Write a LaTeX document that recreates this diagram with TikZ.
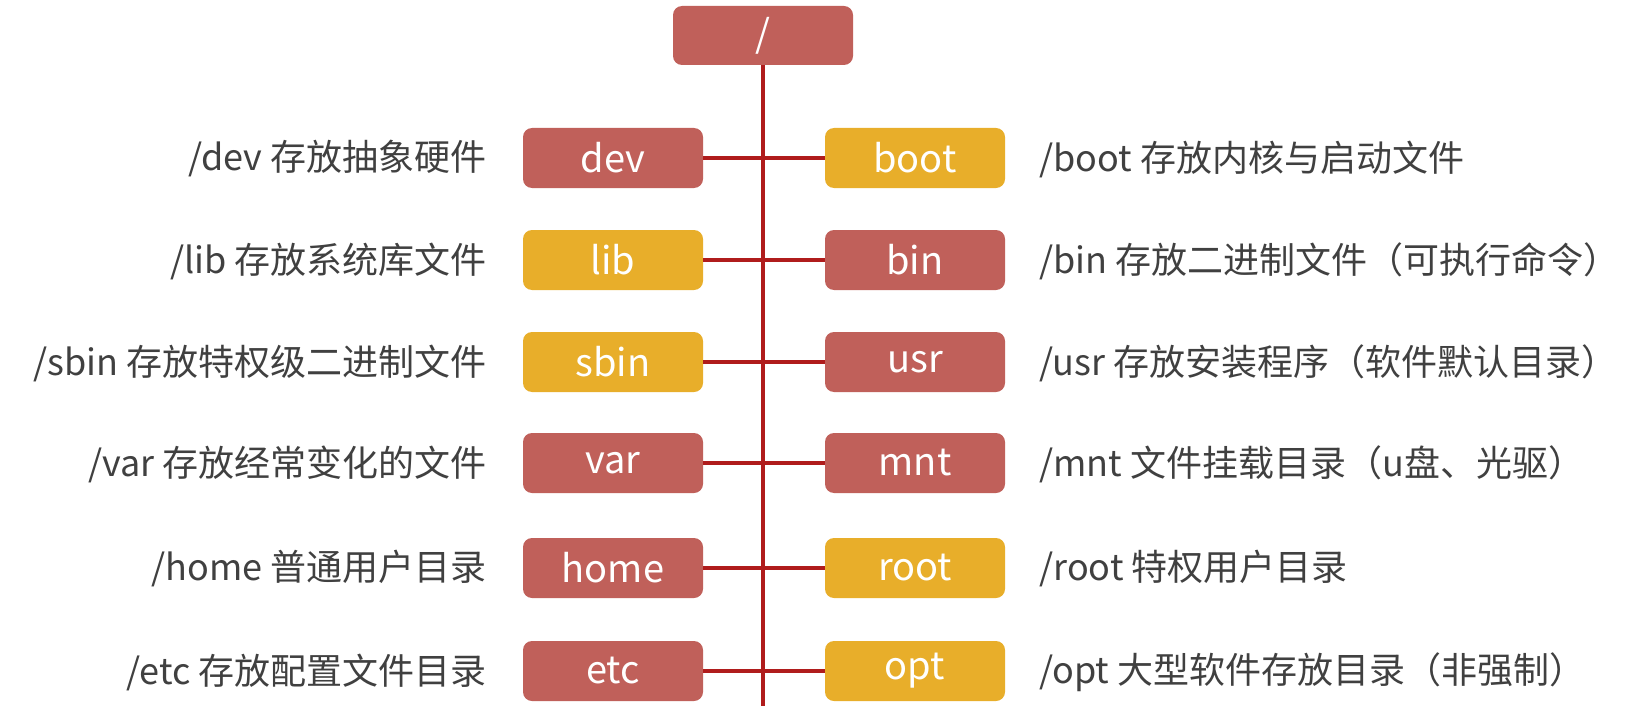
\documentclass[tikz,border=0pt]{standalone}
\usepackage{fontspec}
\setmainfont{Noto Sans CJK SC}
\usepackage{xcolor}
\definecolor{dirred}{HTML}{C0605A}
\definecolor{diryellow}{HTML}{E8AE2A}
\definecolor{treeline}{HTML}{B01C1C}
\definecolor{desc}{HTML}{404040}

\begin{document}
\begin{tikzpicture}[
  x=0.5pt, y=-0.5pt,
  box/.style={rounded corners=4.5pt, minimum width=90pt, minimum height=30pt, inner sep=0pt, text=white, font=\fontsize{19}{21}\selectfont},
  redbox/.style={box, fill=dirred},
  yellowbox/.style={box, fill=diryellow},
  desctext/.style={text=desc, inner sep=0pt, font=\fontsize{18}{20}\selectfont},
  branch/.style={treeline, line width=1.6pt}
]
\useasboundingbox (0,0) rectangle (1638,706);
% root and trunk
\node[redbox, minimum height=29.5pt] (root) at (763,35.5) {/};
\coordinate (trunkend) at (763,706);
\draw[branch, line width=1.75pt] (root.south) -- (trunkend);
% left side
\node[redbox] (dev) at (613,158) {dev};
\node[yellowbox] (lib) at (613,260) {lib};
\node[yellowbox] (sbin) at (613,362) {sbin};
\node[redbox] (var) at (613,463) {var};
\node[redbox] (home) at (613,568) {home};
\node[redbox] (etc) at (613,671) {etc};
\node[desctext, anchor=east] (devtxt) at (487,159) {/dev 存放抽象硬件};
\node[desctext, anchor=east] (libtxt) at (487,261) {/lib 存放系统库文件};
\node[desctext, anchor=east] (sbintxt) at (487,363) {/sbin 存放特权级二进制文件};
\node[desctext, anchor=east] (vartxt) at (487,464) {/var 存放经常变化的文件};
\node[desctext, anchor=east] (hometxt) at (487,569) {/home 普通用户目录};
\node[desctext, anchor=east] (etctxt) at (487,672) {/etc 存放配置文件目录};
% right side
\node[yellowbox] (boot) at (915,158) {boot};
\node[redbox] (bin) at (915,260) {bin};
\node[redbox] (usr) at (915,362) {usr};
\node[redbox] (mnt) at (915,463) {mnt};
\node[yellowbox] (rootdir) at (915,568) {root};
\node[yellowbox] (opt) at (915,671) {opt};
\node[desctext, anchor=west] (boottxt) at (1039,159) {/boot 存放内核与启动文件};
\node[desctext, anchor=west] (bintxt) at (1039,261) {/bin 存放二进制文件（可执行命令）};
\node[desctext, anchor=west] (usrtxt) at (1039,363) {/usr 存放安装程序（软件默认目录）};
\node[desctext, anchor=west] (mnttxt) at (1039,464) {/mnt 文件挂载目录（u盘、光驱）};
\node[desctext, anchor=west] (roottxt) at (1039,569) {/root 特权用户目录};
\node[desctext, anchor=west] (opttxt) at (1039,672) {/opt 大型软件存放目录（非强制）};
% branches
\draw[branch] (dev.east) -- (boot.west);
\draw[branch] (lib.east) -- (bin.west);
\draw[branch] (sbin.east) -- (usr.west);
\draw[branch] (var.east) -- (mnt.west);
\draw[branch] (home.east) -- (rootdir.west);
\draw[branch] (etc.east) -- (opt.west);
\end{tikzpicture}
\end{document}
